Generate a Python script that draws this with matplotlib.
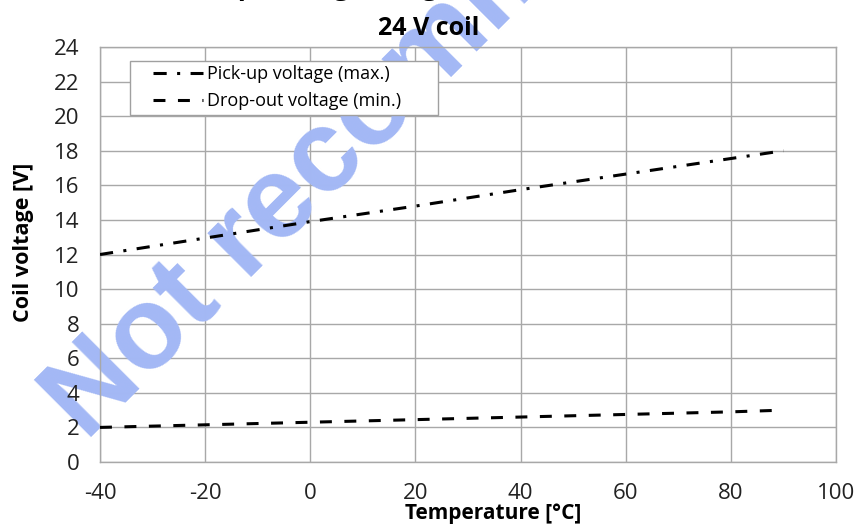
import matplotlib
matplotlib.use("Agg")
import matplotlib.pyplot as plt
from matplotlib.legend_handler import HandlerLine2D

plt.rcParams['font.family'] = ['Open Sans', 'DejaVu Sans']
plt.rcParams['lines.scale_dashes'] = False
plt.rcParams['axes.unicode_minus'] = False

# values
temps = [-40, -20, 0, 20, 40, 60, 80, 90]
pickup = [12.0, 12.95, 13.9, 14.8, 15.75, 16.65, 17.55, 18.0]
dropout = [2.0, 2.15, 2.3, 2.45, 2.6, 2.75, 2.9, 3.0]

xticks = [-40, -20, 0, 20, 40, 60, 80, 100]
yticks = list(range(0, 25, 2))

grid_col = '#a8a8a8'
rect = [100/858, 1-462/527, 736/858, 415/527]

fig = plt.figure(figsize=(8.58, 5.27), dpi=100)
ax = fig.add_axes(rect)

ax.plot(temps, pickup, color='black', lw=2.2, dash_capstyle='butt',
        linestyle=(0, (9.5, 7.5, 2.2, 7.5)),
        label='Pick-up voltage (max.)', zorder=3)
ax.plot(temps, dropout, color='black', lw=2.2, dash_capstyle='butt',
        linestyle=(0, (8.6, 9.0)), label='Drop-out voltage (min.)', zorder=3)

ax.set_xlim(-40, 100)
ax.set_ylim(0, 24)
ax.set_xticks(xticks)
ax.set_yticks(yticks)
ax.tick_params(axis='both', length=0, labelleft=False, labelbottom=False)
ax.set_axisbelow(True)
ax.grid(True, color=grid_col, lw=1.0)
for s in ax.spines.values():
    s.set_color(grid_col)
    s.set_linewidth(1.0)

fs = 13
leg = ax.legend(loc='upper left', bbox_to_anchor=(0.041, 0.966 - 0.128, 0.4185, 0.128),
                mode='expand', borderaxespad=0, fontsize=fs, frameon=True,
                fancybox=False, framealpha=1, edgecolor='#a0a0a0',
                borderpad=0.24, labelspacing=0.5, handlelength=3.77,
                handletextpad=0.22,
                handler_map={matplotlib.lines.Line2D: HandlerLine2D(xpad=1.0)})
leg.get_frame().set_linewidth(1.0)
leg.set_zorder(4)

# watermark, above the grid but below the data lines
ax.text(86/858, 1 - 442/527, 'Not recommended', transform=fig.transFigure,
        rotation=45, rotation_mode='anchor', ha='left', va='baseline',
        fontsize=84, fontweight='bold', family='Liberation Sans',
        color='#a3b8f5', zorder=1, clip_on=False)

# overlay axes that only carries tick labels, so they sit on top of the watermark
ax2 = fig.add_axes(rect, sharex=ax, sharey=ax)
ax2.patch.set_visible(False)
for s in ax2.spines.values():
    s.set_visible(False)
ax2.tick_params(axis='both', length=0, labelsize=16, colors='#222222')
ax2.tick_params(axis='y', pad=15)
ax2.tick_params(axis='x', pad=15)

ax2.set_xlabel('Temperature [°C]', fontsize=15, fontweight='bold')
ax2.xaxis.set_label_coords(0.534, -0.100)
ax2.set_ylabel('Coil voltage [V]', fontsize=15.5, fontweight='bold')
ax2.yaxis.set_label_coords(-0.090, 0.53)

# titles (first line is cut off at the top edge in the reference)
fig.text(0.5, 1 + 5/527, 'Operating voltage characteristic', ha='center',
         va='baseline', fontsize=19, fontweight='bold')
fig.text(0.5, 1 - 35/527, '24 V coil', ha='center', va='baseline',
         fontsize=18, fontweight='bold', zorder=5)

fig.savefig('out.png', dpi=100)
